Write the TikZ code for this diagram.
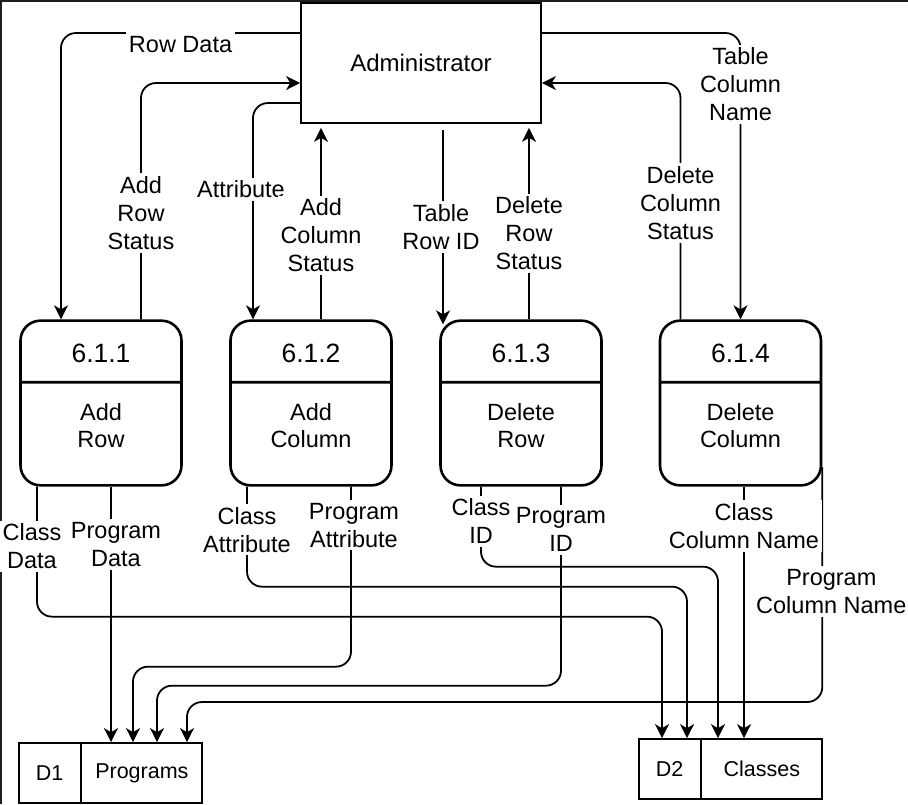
\documentclass[tikz,border=0pt]{standalone}
\usepackage{fontspec}
\setmainfont{Liberation Sans}
\usepackage{xcolor}
\usepackage{tikz}
\usetikzlibrary{positioning,shapes.multipart,arrows.meta,calc}
\definecolor{frame}{RGB}{30,30,30}
\newcommand{\pnum}{\fontsize{26.5}{30}\selectfont}

\begin{document}
\begin{tikzpicture}[
  x=1pt, y=-1pt,
  every node/.style={font=\fontsize{23.5}{28}\selectfont},
  ext/.style={draw, line width=1.7pt, minimum width=240pt, minimum height=120pt,
              font=\fontsize{24}{28}\selectfont},
  proc/.style={rectangle split, rectangle split parts=2, draw, rounded corners=20pt,
               line width=2.6pt, text width=155pt, align=center, inner xsep=3pt, inner ysep=0pt,
               font=\fontsize{23.5}{27}\selectfont},
  store/.style={rectangle split, rectangle split horizontal, rectangle split parts=2,
                draw, line width=1.7pt, minimum height=60pt, inner xsep=3pt,
                font=\fontsize{21.5}{26}\selectfont},
  flow/.style={line width=1.8pt, rounded corners=15pt, -{Stealth[length=14pt, width=14pt, inset=4pt]}},
  lbl/.style={fill=white, sharp corners, inner sep=3pt, align=center}
]
  \useasboundingbox (0,0) rectangle (908,804);
  \fill[frame] (0,0) rectangle (908,2);
  \fill[frame] (0,0) rectangle (2,804);

  \node[ext] (adm) at (421,63) {Administrator};

  \node[proc] (ar) at (101,403) {%
    \nodepart{one}\pnum\rule[-18.5pt]{0pt}{59pt}6.1.1
    \nodepart{two}\rule{0pt}{36.5pt}Add\\Row\rule[-37pt]{0pt}{37pt}};
  \node[proc] (ac) at (311,403) {%
    \nodepart{one}\pnum\rule[-18.5pt]{0pt}{59pt}6.1.2
    \nodepart{two}\rule{0pt}{36.5pt}Add\\Column\rule[-37pt]{0pt}{37pt}};
  \node[proc] (dr) at (521,403) {%
    \nodepart{one}\pnum\rule[-18.5pt]{0pt}{59pt}6.1.3
    \nodepart{two}\rule{0pt}{36.5pt}Delete\\Row\rule[-37pt]{0pt}{37pt}};
  \node[proc] (dc) at (740.5,403) {%
    \nodepart{one}\pnum\rule[-18.5pt]{0pt}{59pt}6.1.4
    \nodepart{two}\rule{0pt}{36.5pt}Delete\\Column\rule[-37pt]{0pt}{37pt}};

  \node[store] (prg) at (110.5,773) {\makebox[55pt]{D1}\nodepart{two}\makebox[114pt]{Programs}};
  \node[store] (cls) at (730.5,769) {\makebox[55pt]{D2}\nodepart{two}\makebox[114pt]{Classes}};

  \draw[flow] ([yshift=30]adm.west) -| node[lbl, pos=0.25, yshift=-12, inner ysep=6pt]{Row Data} ([xshift=-40]ar.north);
  \draw[flow] ([xshift=40]ar.north) |- node[lbl, pos=0.225]{Add\\Row\\Status} ([yshift=-20]adm.west);
  \draw[flow] ([yshift=-40]adm.west) -| node[lbl, pos=0.7, xshift=-12]{Attribute} ([xshift=-58]ac.north);
  \draw[flow, shorten >=4pt] ([xshift=10]ac.north) -- node[lbl, pos=0.43]{Add\\Column\\Status} ([xshift=10]ac.north |- adm.south);
  \draw[flow] ([xshift=-78,yshift=-6]dr.north |- adm.south) -- node[lbl, pos=0.5, xshift=-2]{Table\\Row ID} ([xshift=-78,yshift=-5]dr.north);
  \draw[flow, shorten >=4pt] ([xshift=8]dr.north) -- node[lbl, pos=0.44]{Delete\\Row\\Status} ([xshift=8]dr.north |- adm.south);
  \draw[flow] ([xshift=-60]dc.north) |- node[lbl, pos=0.246]{Delete\\Column\\Status} ([yshift=-20]adm.east);
  \draw[flow] ([yshift=30]adm.east) -| node[lbl, pos=0.59]{Table\\Column\\Name} (dc.north);

  \draw[flow] ([xshift=-64]ar.south) -- node[lbl, pos=0.46, xshift=-5]{Class\\Data} ++(0,130) -| ([xshift=-68.5]cls.north);
  \draw[flow] ([xshift=0.5]prg.north |- ar.south) -- node[lbl, pos=0.227, xshift=5]{Program\\Data} ([xshift=0.5]prg.north);
  \draw[flow] ([xshift=-64]ac.south) -- node[lbl, pos=0.43]{Class\\Attribute} ++(0,100) -| ([xshift=-43.5]cls.north);
  \draw[flow] ([xshift=40]ac.south) -- node[lbl, pos=0.214, xshift=3]{Program\\Attribute} ++(0,180) -| ([xshift=22.5]prg.north);
  \draw[flow] ([xshift=-40]dr.south) -- node[lbl, pos=0.43]{Class\\ID} ++(0,80) -| ([xshift=-12.5]cls.north);
  \draw[flow] ([xshift=40]dr.south) -- node[lbl, pos=0.216]{Program\\ID} ++(0,199) -| ([xshift=46.5]prg.north);
  \draw[flow] ([yshift=-64]dc.east) -- node[lbl, pos=0.53, xshift=9]{Program\\Column Name} ++(0,235) -| ([xshift=76.5]prg.north);
  \draw[flow] ([xshift=13.5]cls.north |- dc.south) -- node[lbl, pos=0.156]{Class\\Column Name} ([xshift=13.5]cls.north);
\end{tikzpicture}
\end{document}
